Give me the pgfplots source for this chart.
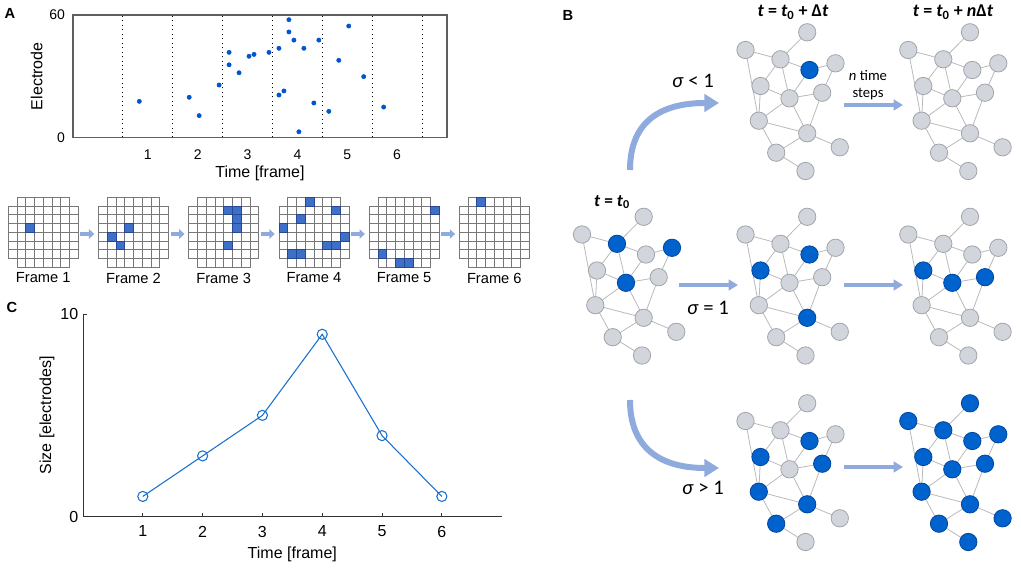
\documentclass[border=0pt]{standalone}
\usepackage{pgfplots}
\pgfplotsset{compat=1.18}
\usepackage{pgfplotstable}
\usepackage{fontspec}
\setmainfont{Liberation Sans}
\newfontfamily\cali{Carlito}
\usetikzlibrary{arrows.meta}

\definecolor{dotblue}{RGB}{0,85,205}
\definecolor{lineblue}{RGB}{25,112,205}
\definecolor{cellblue}{RGB}{62,112,200}
\definecolor{cellborder}{RGB}{40,70,150}
\definecolor{gridgray}{RGB}{120,120,120}
\definecolor{nodeblue}{RGB}{0,98,204}
\definecolor{nodebluedark}{RGB}{0,70,160}
\definecolor{nodegray}{RGB}{210,214,220}
\definecolor{nodeborder}{RGB}{160,165,172}
\definecolor{edgegray}{RGB}{185,185,185}
\definecolor{arrowblue}{RGB}{143,170,220}
\definecolor{axgray}{RGB}{95,95,95}

% 60-electrode layout (8x8 minus corners): column, row
\pgfplotstableread[row sep=\\]{
c r\\
1 0\\ 2 0\\ 3 0\\ 4 0\\ 5 0\\ 6 0\\
0 1\\ 1 1\\ 2 1\\ 3 1\\ 4 1\\ 5 1\\ 6 1\\ 7 1\\
0 2\\ 1 2\\ 2 2\\ 3 2\\ 4 2\\ 5 2\\ 6 2\\ 7 2\\
0 3\\ 1 3\\ 2 3\\ 3 3\\ 4 3\\ 5 3\\ 6 3\\ 7 3\\
0 4\\ 1 4\\ 2 4\\ 3 4\\ 4 4\\ 5 4\\ 6 4\\ 7 4\\
0 5\\ 1 5\\ 2 5\\ 3 5\\ 4 5\\ 5 5\\ 6 5\\ 7 5\\
0 6\\ 1 6\\ 2 6\\ 3 6\\ 4 6\\ 5 6\\ 6 6\\ 7 6\\
1 7\\ 2 7\\ 3 7\\ 4 7\\ 5 7\\ 6 7\\
}\celltab

% active electrodes per frame: frame, column, row
\pgfplotstableread[row sep=\\]{
f c r\\
1 2 3\\
2 3 3\\ 2 1 4\\ 2 2 5\\
3 4 1\\ 3 5 1\\ 3 5 2\\ 3 5 3\\ 3 4 5\\
4 3 0\\ 4 6 1\\ 4 2 2\\ 4 0 3\\ 4 7 4\\ 4 5 5\\ 4 6 5\\ 4 1 6\\ 4 2 6\\
5 7 1\\ 5 1 6\\ 5 3 7\\ 5 4 7\\
6 2 0\\
}\acttab

% network nodes (px, relative) and activity in the seven copies
\pgfplotstableread{
x     y      A B C D E F G
61.7  -17.7  0 0 0 0 0 0 1
0     0      0 0 0 0 0 0 1
35    9.3    0 0 1 0 0 0 1
64    20     1 0 0 1 0 1 1
90    13.3   0 0 1 0 0 0 1
15    36     0 0 0 1 1 1 1
44    48.3   0 0 1 0 1 0 1
76.7  42.7   0 0 0 0 1 1 1
13.3  70.7   0 0 0 0 0 1 1
61.7  83.3   0 0 0 1 0 1 1
94.3  97.3   0 0 0 0 0 0 1
30.7  102.7  0 0 0 0 0 1 1
60    121    0 0 0 0 0 0 1
}\nodetab

\pgfplotstableread{
x1    y1     x2    y2
61.7  -17.7  35    9.3
0     0      35    9.3
0     0      13.3  70.7
35    9.3    64    20
35    9.3    15    36
35    9.3    44    48.3
64    20     90    13.3
64    20     44    48.3
90    13.3   76.7  42.7
15    36     44    48.3
15    36     13.3  70.7
44    48.3   76.7  42.7
44    48.3   13.3  70.7
44    48.3   61.7  83.3
76.7  42.7   61.7  83.3
13.3  70.7   61.7  83.3
13.3  70.7   30.7  102.7
61.7  83.3   94.3  97.3
61.7  83.3   30.7  102.7
30.7  102.7  60    121
}\edgetab

\newcommand\netedges[2]{%
  \addplot[no markers, draw=edgegray, line width=0.6pt,
    quiver={u=\thisrow{x2}-\thisrow{x1}, v=\thisrow{y2}-\thisrow{y1}}]
    table[x expr=\thisrow{x1}+#1, y expr=\thisrow{y1}+#2]{\edgetab};}
\newcommand\netgray[3]{%
  \addplot[only marks, mark=*, mark size=6.5pt,
    mark options={fill=nodegray, draw=nodeborder, line width=0.6pt},
    restrict expr to domain={\thisrow{#3}}{-0.5:0.5}]
    table[x expr=\thisrow{x}+#1, y expr=\thisrow{y}+#2]{\nodetab};}
\newcommand\netblue[3]{%
  \addplot[only marks, mark=*, mark size=6.5pt,
    mark options={fill=nodeblue, draw=nodebluedark, line width=0.6pt},
    restrict expr to domain={\thisrow{#3}}{0.5:1.5}]
    table[x expr=\thisrow{x}+#1, y expr=\thisrow{y}+#2]{\nodetab};}

\begin{document}
\begin{tikzpicture}[x=1pt,y=1pt]
\useasboundingbox (0,0) rectangle (765.75pt,427.5pt);

% ---------- canvas in pixel coordinates ----------
\begin{axis}[at={(0pt,0pt)}, anchor=south west, scale only axis,
  width=765.75pt, height=427.5pt, xmin=0, xmax=1021, ymin=0, ymax=570,
  y dir=reverse, hide axis, clip=false]

% frame grids
\pgfplotsinvokeforeach{0,...,5}{
  \addplot[only marks, mark=square*, mark size=3.28pt,
    mark options={fill=white, draw=gridgray, line width=0.5pt}]
    table[x expr={8.3+90.2*#1+8.75*(\thisrow{c}+0.5)},
          y expr={197.3+8.75*(\thisrow{r}+0.5)}]{\celltab};
}
\addplot[only marks, mark=square*, mark size=3.28pt,
  mark options={fill=cellblue, draw=cellborder, line width=0.5pt}]
  table[x expr={8.3+90.2*(\thisrow{f}-1)+8.75*(\thisrow{c}+0.5)},
        y expr={197.3+8.75*(\thisrow{r}+0.5)}]{\acttab};

\pgfplotsinvokeforeach{0,...,4}{
  \draw[arrowblue, line width=2.4pt, -{Triangle[length=4pt, width=7pt]}]
    ({8.3+90.2*#1+72},234) -- ({8.3+90.2*#1+86},234);
}
\node[font=\fontsize{11}{13}\selectfont] at (43.3,278) {Frame 1};
\node[font=\fontsize{11}{13}\selectfont] at (133.5,278) {Frame 2};
\node[font=\fontsize{11}{13}\selectfont] at (223.7,278) {Frame 3};
\node[font=\fontsize{11}{13}\selectfont] at (313.9,278) {Frame 4};
\node[font=\fontsize{11}{13}\selectfont] at (404.1,278) {Frame 5};
\node[font=\fontsize{11}{13}\selectfont] at (494.3,278) {Frame 6};

% networks
\netedges{745.5}{50}    \netgray{745.5}{50}{A}    \netblue{745.5}{50}{A}
\netedges{908.3}{50}    \netgray{908.3}{50}{B}
\netedges{582}{234.5}   \netgray{582}{234.5}{C}   \netblue{582}{234.5}{C}
\netedges{745.5}{234.5} \netgray{745.5}{234.5}{D} \netblue{745.5}{234.5}{D}
\netedges{908.3}{234.5} \netgray{908.3}{234.5}{E} \netblue{908.3}{234.5}{E}
\netedges{745.5}{421}   \netgray{745.5}{421}{F}   \netblue{745.5}{421}{F}
\netedges{908.3}{421}   \netblue{908.3}{421}{G}

% arrows of panel B
\draw[arrowblue, line width=4.5pt, -{Triangle[length=11pt, width=13pt]}]
  (630,170) .. controls (630,122) and (660,103) .. (719,103);
\draw[arrowblue, line width=4.5pt, -{Triangle[length=11pt, width=13pt]}]
  (630,400) .. controls (630,448) and (660,468) .. (719,468);
\draw[arrowblue, line width=3.4pt, -{Triangle[length=7pt, width=8pt]}] (844,105) -- (903,105);
\draw[arrowblue, line width=3.4pt, -{Triangle[length=7pt, width=8pt]}] (679,285) -- (738,285);
\draw[arrowblue, line width=3.4pt, -{Triangle[length=7pt, width=8pt]}] (844,285) -- (903,285);
\draw[arrowblue, line width=3.4pt, -{Triangle[length=7pt, width=8pt]}] (844,467) -- (903,467);

% texts of panel B
\node[font=\cali\bfseries\fontsize{13.5}{15}\selectfont] at (793,12) {\textit{t} = \textit{t}\textsubscript{0} + Δ\textit{t}};
\node[font=\cali\bfseries\fontsize{13.5}{15}\selectfont] at (953,12) {\textit{t} = \textit{t}\textsubscript{0} + \textit{n}Δ\textit{t}};
\node[font=\cali\fontsize{15.5}{17}\selectfont] at (693,81) {\textit{σ} < 1};
\node[font=\cali\fontsize{11}{13}\selectfont, align=center] at (868,85) {\textit{n} time\\steps};
\node[font=\cali\bfseries\fontsize{13}{15}\selectfont] at (612,202) {\textit{t} = \textit{t}\textsubscript{0}};
\node[font=\cali\fontsize{15.5}{17}\selectfont] at (708,308) {\textit{σ} = 1};
\node[font=\cali\fontsize{15.5}{17}\selectfont] at (703,488) {\textit{σ} > 1};

% panel letters
\node[font=\bfseries\fontsize{11}{13}\selectfont] at (10,13) {A};
\node[font=\bfseries\fontsize{11}{13}\selectfont] at (568,15) {B};
\node[font=\bfseries\fontsize{11}{13}\selectfont] at (12,307) {C};
\end{axis}

% ---------- panel A raster ----------
\begin{axis}[at={(54.75pt,324.375pt)}, anchor=south west, scale only axis,
  width=280.5pt, height=91.875pt,
  xmin=-0.5, xmax=7, ymin=0, ymax=60,
  xtick={1,2,3,4,5,6}, ytick={0,60}, major tick length=0pt,
  axis line style={draw=axgray, line width=1pt},
  /pgf/number format/assume math mode=true,
  tick label style={font=\fontsize{10.5}{12}\selectfont},
  xticklabel style={yshift=-6pt},
  yticklabel style={xshift=-2.5pt},
  xlabel={Time [frame]}, ylabel={Electrode},
  label style={font=\fontsize{12}{14}\selectfont},
  xlabel style={at={(axis description cs:0.5,-0.29)}, anchor=center},
  ylabel style={at={(axis description cs:-0.097,0.5)}, anchor=center},
  clip=false]
\addplot[ycomb, black, line width=0.7pt, dash pattern=on 0.75pt off 2.6pt, no markers]
  coordinates {(0.5,60) (1.5,60) (2.5,60) (3.5,60) (4.5,60) (5.5,60) (6.5,60)};
\addplot[only marks, mark=*, mark size=1.6pt, color=dotblue] coordinates {
  (0.83,17.7) (1.83,19.7) (2.03,10.7) (2.43,25.7) (2.63,41.7) (2.63,35.6)
  (2.83,31.7) (3.03,39.8) (3.13,40.7) (3.43,41.7) (3.63,43.7) (3.63,20.8)
  (3.73,22.8) (3.83,57.7) (3.83,51.7) (3.93,47.7) (4.03,2.8) (4.13,43.7)
  (4.33,16.9) (4.43,47.7) (4.63,12.8) (4.83,37.8) (5.03,54.6) (5.33,29.8)
  (5.73,14.9)};
\end{axis}

% ---------- panel C size ----------
\begin{axis}[at={(62.25pt,39.975pt)}, anchor=south west, scale only axis,
  width=314pt, height=152pt,
  xmin=0, xmax=7, ymin=0, ymax=10,
  every non boxed x axis/.append style={x axis line style={-}},
  every non boxed y axis/.append style={y axis line style={-}},
  axis x line*=bottom, axis y line*=left,
  tick align=inside, major tick length=3pt,
  axis line style={draw=black!80, line width=0.6pt},
  tick style={draw=black!80, line width=0.6pt},
  xtick={1,2,3,4,5,6}, ytick={0,10},
  /pgf/number format/assume math mode=true,
  tick label style={font=\fontsize{12}{14}\selectfont},
  xticklabel style={yshift=-3.4pt},
  xlabel={Time [frame]}, ylabel={Size [electrodes]},
  label style={font=\fontsize{12}{14}\selectfont},
  xlabel style={at={(axis description cs:0.5,-0.1875)}, anchor=center},
  ylabel style={at={(axis description cs:-0.086,0.5)}, anchor=center},
  clip=false]
\addplot[color=lineblue, line width=0.8pt, mark=o, mark size=3.8pt,
  mark options={line width=0.8pt}] coordinates {
  (1,1) (2,3) (3,5) (4,9) (5,4) (6,1)};
\end{axis}
\end{tikzpicture}
\end{document}
